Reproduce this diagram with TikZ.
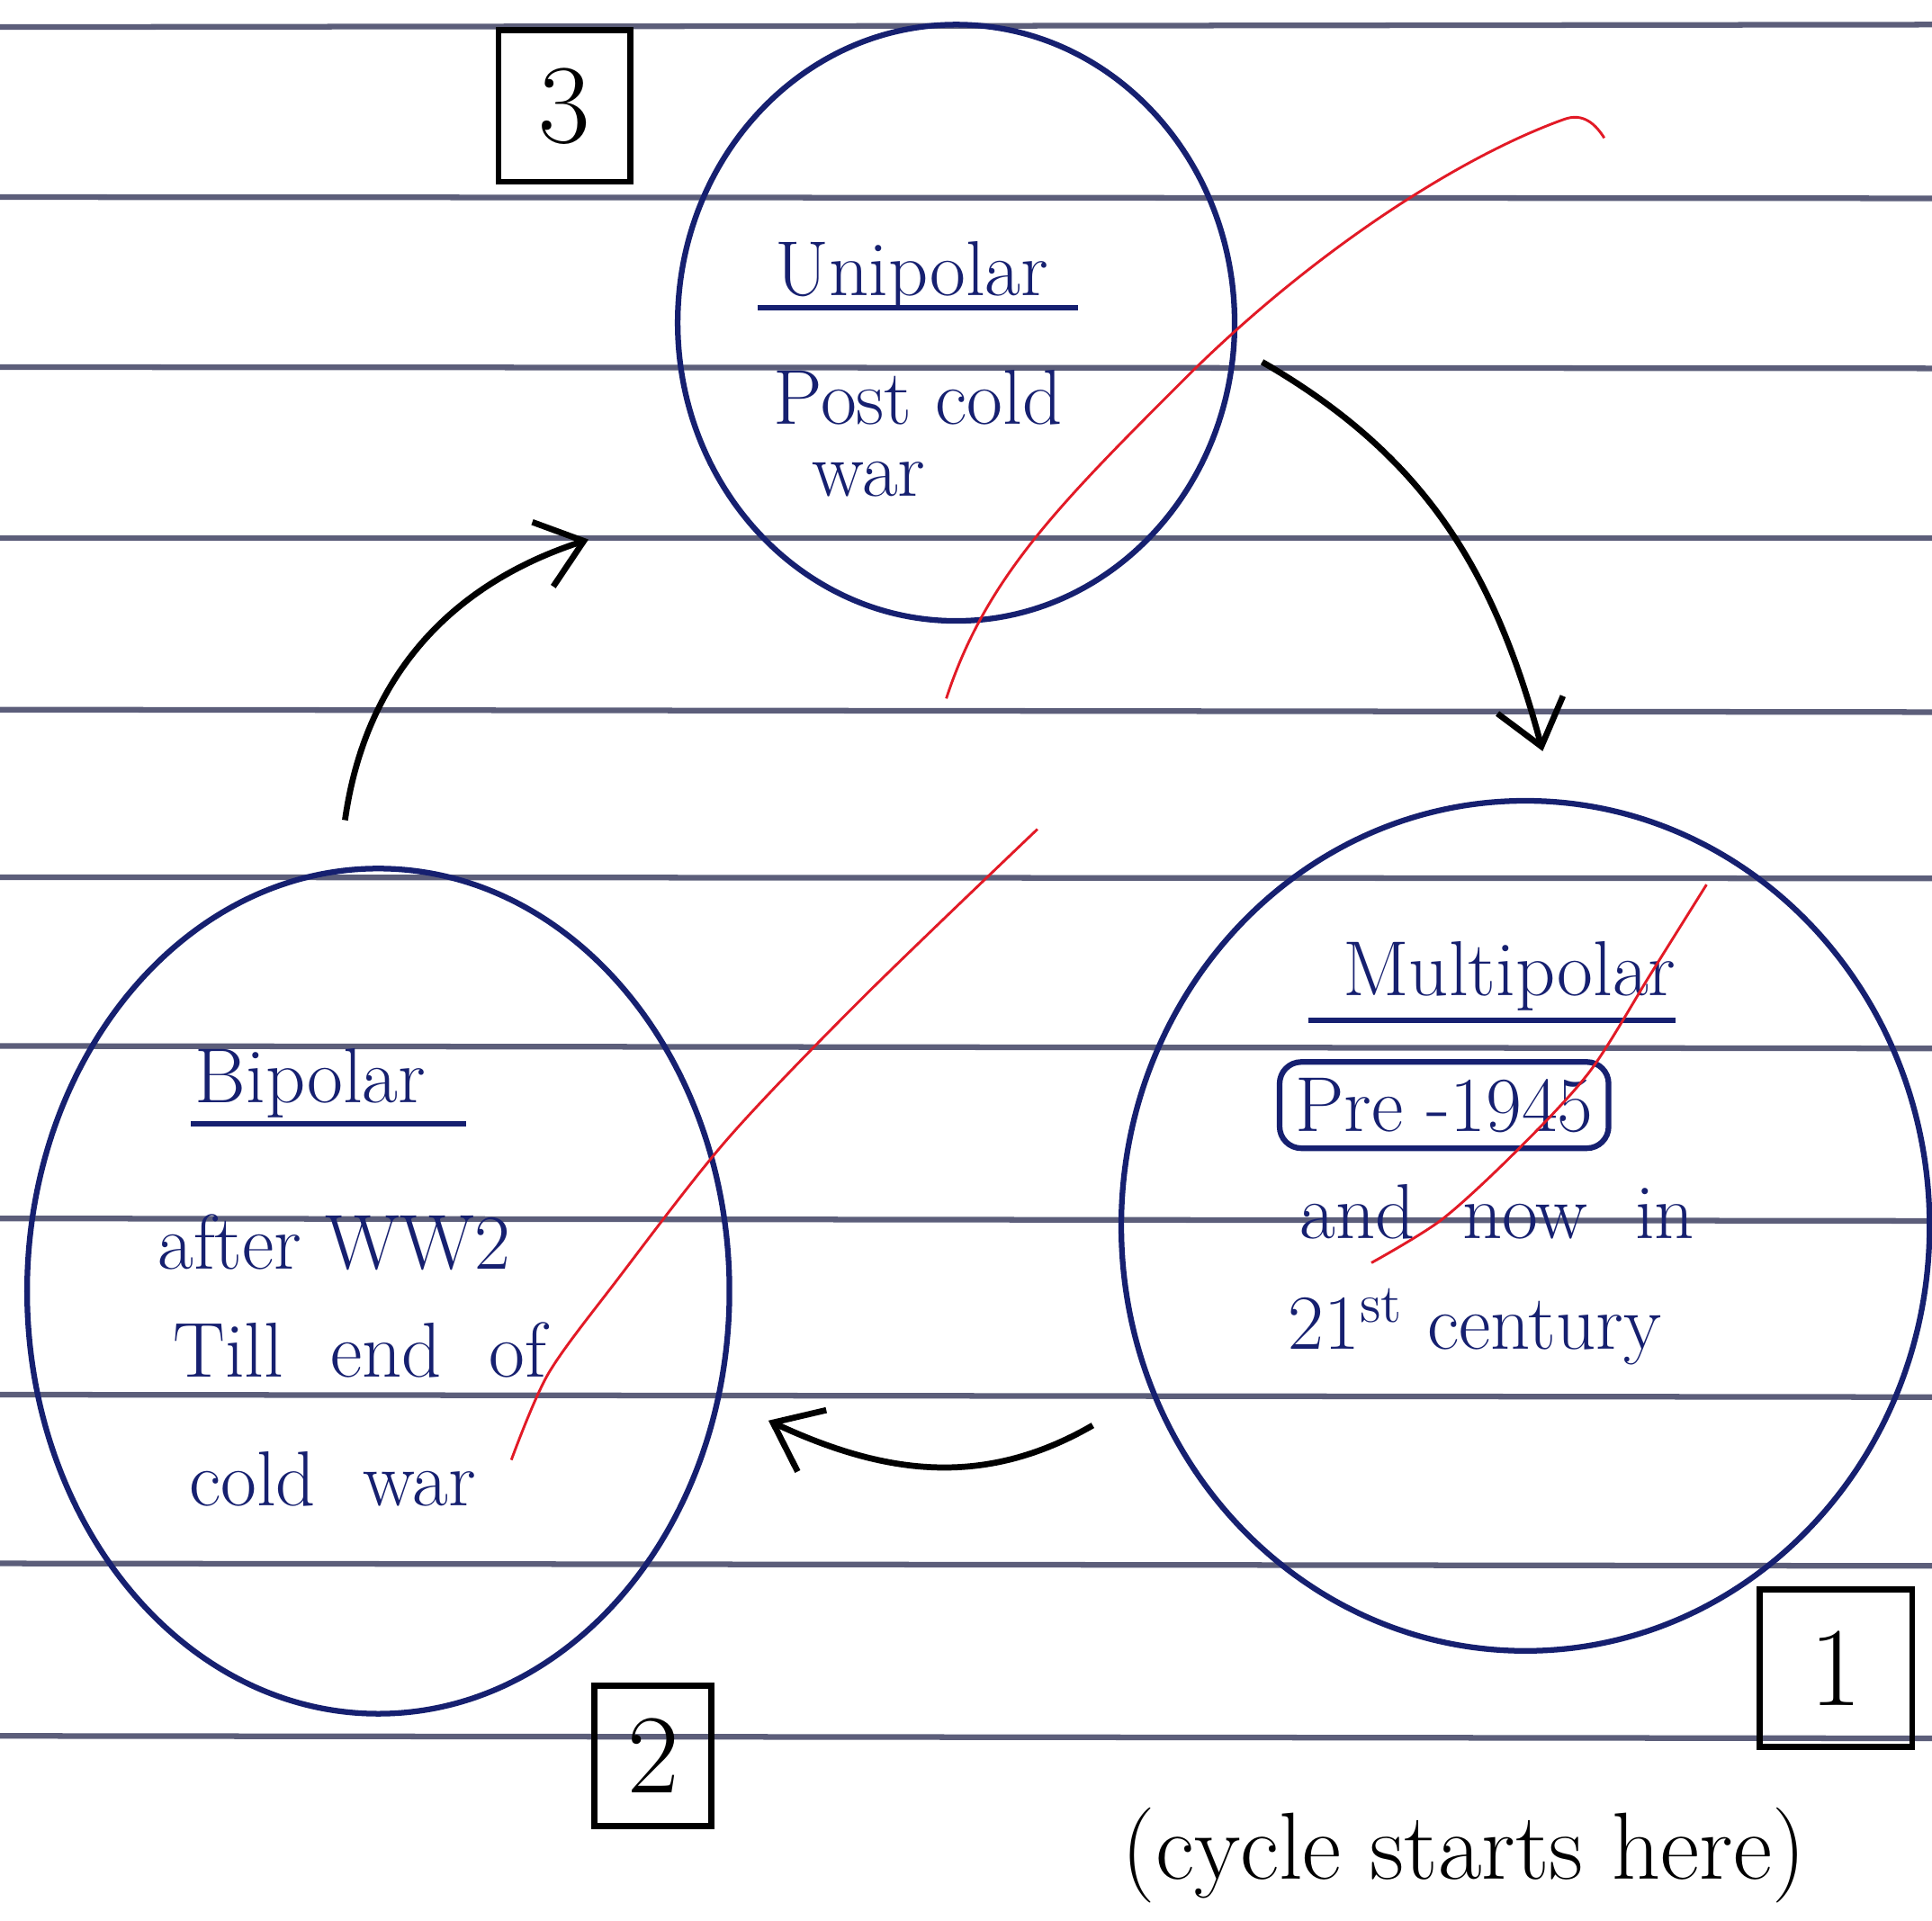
\documentclass[tikz,border=0pt]{standalone}
\usepackage{xcolor}
\usepackage{tikz}
\usetikzlibrary{shapes.geometric,arrows,arrows.meta,positioning,calc}
\definecolor{ink}{RGB}{22,32,112}
\definecolor{paperline}{RGB}{92,94,122}
\definecolor{pen}{RGB}{226,26,38}
\tikzstyle{ruled} = [draw=paperline, line width=1.3pt]
\tikzstyle{pole} = [draw=ink, ellipse, line width=1.3pt, inner sep=0pt]
\tikzstyle{inktext} = [text=ink, inner sep=0pt, anchor=base, font=\fontsize{18}{20}\selectfont]
\tikzstyle{numbox} = [draw=black, line width=1.4pt, font=\fontsize{26}{28}\selectfont]
\tikzstyle{cycleline} = [draw=black, line width=1.4pt, -{Straight Barb[length=3.5mm,width=5.5mm]}]
\tikzstyle{redline} = [draw=pen, line width=0.6pt]

\begin{document}
\begin{tikzpicture}
		\useasboundingbox (0,0) rectangle (15.68,15.59);
		\fill[white] (0,0) rectangle (15.68,15.59); % paper
		
		% ruled lines of the page
		\draw[ruled] (0,15.37) -- (15.68,15.39); % line 1
		\draw[ruled] (0,13.99) -- (15.68,13.98); % line 2
		\draw[ruled] (0,12.61) -- (15.68,12.60); % line 3
		\draw[ruled] (0,11.22) -- (15.68,11.22); % line 4
		\draw[ruled] (0,9.83)  -- (15.68,9.81);  % line 5
		\draw[ruled] (0,8.47)  -- (15.68,8.46);  % line 6
		\draw[ruled] (0,7.10)  -- (15.68,7.08);  % line 7
		\draw[ruled] (0,5.70)  -- (15.68,5.68);  % line 8
		\draw[ruled] (0,4.27)  -- (15.68,4.25);  % line 9
		\draw[ruled] (0,2.90)  -- (15.68,2.88);  % line 10
		\draw[ruled] (0,1.50)  -- (15.68,1.48);  % line 11
		
		% the three poles
		\node[pole, minimum width=4.52cm, minimum height=4.84cm] (uni)   at (7.76,12.97) {}; % unipolar
		\node[pole, minimum width=5.70cm, minimum height=6.86cm] (bi)    at (3.07,5.11)  {}; % bipolar
		\node[pole, minimum width=6.56cm, minimum height=6.90cm] (multi) at (12.38,5.64) {}; % multipolar
		
		% unipolar text
		\node[inktext] (unititle) at (7.40,13.19) {Unipolar};
		\draw[ink, line width=1.3pt] (6.15,13.09) -- (8.75,13.09); % underline
		\node[inktext] (unipost) at (7.45,12.15) {Post cold};
		\node[inktext] (uniwar)  at (7.05,11.56) {war};
		
		% bipolar text
		\node[inktext] (bititle) at (2.52,6.64) {Bipolar};
		\draw[ink, line width=1.3pt] (1.55,6.47) -- (3.78,6.47); % underline
		\node[inktext] (biafter) at (2.71,5.29) {after WW2};
		\node[inktext] (bitill)  at (2.92,4.41) {Till\ \ end\ \ of};
		\node[inktext] (bicold)  at (2.70,3.37) {cold\ \ war};
		
		% multipolar text
		\node[inktext] (multititle) at (12.25,7.51) {Multipolar};
		\draw[ink, line width=1.3pt] (10.62,7.31) -- (13.60,7.31); % underline
		\node[draw=ink, line width=1.3pt, rounded corners=5pt, text=ink, minimum width=2.67cm, minimum height=0.70cm,
			font=\fontsize{18}{20}\selectfont] (multipre) at (11.72,6.62) {Pre -1945};
		\node[inktext] (multiand) at (12.15,5.54) {and\ \ now\ \ in};
		\node[inktext] (multicent) at (11.97,4.64) {21\textsuperscript{st}\ century};
		
		% step numbers
		\node[numbox, minimum width=1.07cm, minimum height=1.23cm] (three) at (4.58,14.73) {3};
		\node[numbox, minimum width=0.95cm, minimum height=1.14cm] (two)   at (5.30,1.34)  {2};
		\node[numbox, minimum width=1.24cm, minimum height=1.28cm] (one)   at (14.90,2.05) {1};
		\node[anchor=base, font=\fontsize{22}{24}\selectfont] (start) at (11.88,0.34) {(cycle\ starts\ here)};
		
		% the cycle
		\draw[cycleline] ([xshift=2.2mm]uni.-8) to[out=-30,in=105] ([shift={(1.4mm,3.8mm)}]multi.north); % 3 -> 1
		\draw[cycleline] ([xshift=-5.9mm]multi.209) to[out=-150,in=-25] ([xshift=4.3mm]bi.-21); % 1 -> 2
		\draw[cycleline] ([shift={(-2.7mm,3.7mm)}]bi.north) to[out=82,in=198] ([xshift=-14mm]uni.228); % 2 -> 3
		
		% red pen strokes
		\draw[redline] (7.68,9.92) .. controls (8.0,10.9) and (8.6,11.5) .. (9.61,12.51)
			.. controls (10.6,13.5) and (11.8,14.3) .. (12.69,14.62)
			.. controls (12.85,14.68) and (12.95,14.58) .. (13.02,14.47); % top stroke
		\draw[redline] plot[smooth] coordinates {(8.42,8.86) (7.00,7.49) (5.90,6.34) (5.00,5.19) (4.45,4.44) (4.15,3.74)}; % left stroke
		\draw[redline] plot[smooth] coordinates {(13.85,8.41) (13.40,7.69) (12.90,6.89) (12.30,6.24) (11.70,5.69) (11.13,5.34)}; % right stroke
		
\end{tikzpicture}
\end{document}
